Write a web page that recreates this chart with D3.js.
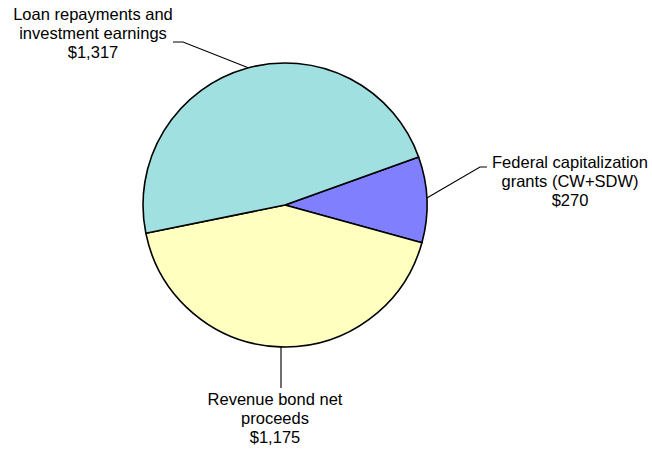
<!DOCTYPE html>
<html><head><meta charset="utf-8">
<script src="https://cdn.jsdelivr.net/npm/d3@7"></script>
<style>body{margin:0;background:#fff;}svg{display:block;}</style>
</head><body>
<svg id="c" width="652" height="449"></svg>
<script>
const categories = ["Federal capitalization grants (CW+SDW)", "Revenue bond net proceeds", "Loan repayments and investment earnings"];
const values = [270, 1175, 1317];
const valueLabels = ["$270", "$1,175", "$1,317"];
const labelLines = [["Federal capitalization", "grants (CW+SDW)"], ["Revenue bond net", "proceeds"], ["Loan repayments and", "investment earnings"]];
const colors = ["#8080FF", "#FFFFC0", "#A0E0E0"];

const svg = d3.select("#c");
const cx = 285, cy = 205, r = 142;
const start = 70.2 * Math.PI / 180;
const pie = d3.pie().sort(null).startAngle(start).endAngle(start + 2 * Math.PI);
const arcs = pie(values);
const arc = d3.arc().innerRadius(0).outerRadius(r);
const g = svg.append("g").attr("transform", `translate(${cx},${cy})`);
g.selectAll("path").data(arcs).enter().append("path")
  .attr("d", arc).attr("fill", (d, i) => colors[i])
  .attr("stroke", "#000").attr("stroke-width", 1.6).attr("stroke-linejoin", "round");

// leader lines: [point on pie edge via angle, elbow, end], label anchor
const leaders = [
  { pts: [[428, 198], [480, 167], [487, 167]], lx: 570, ly: 168 },
  { pts: [[281, 347], [281, 388]], lx: 275, ly: 405 },
  { pts: [[248, 67], [183, 42], [173, 42]], lx: 93, ly: 20 }
];
arcs.forEach((d, i) => {
  const L = leaders[i];
  // first point placed on the arc edge at the leader angle
  const a = Math.atan2(L.pts[0][0] - cx, -(L.pts[0][1] - cy));
  const p0 = [cx + r * Math.sin(a), cy - r * Math.cos(a)];
  const pts = [p0].concat(L.pts.slice(1));
  svg.append("path").attr("d", d3.line()(pts)).attr("fill", "none")
    .attr("stroke", "#000").attr("stroke-width", 1.1);
  const t = svg.append("text").attr("text-anchor", "middle")
    .attr("font-family", "Liberation Sans, Arial, sans-serif").attr("font-size", 16.5).attr("fill", "#000");
  const lines = labelLines[i].concat([valueLabels[i]]);
  lines.forEach((s, k) => {
    t.append("tspan").attr("x", L.lx).attr("y", L.ly + k * 18.8).text(s);
  });
});
</script>
</body></html>
